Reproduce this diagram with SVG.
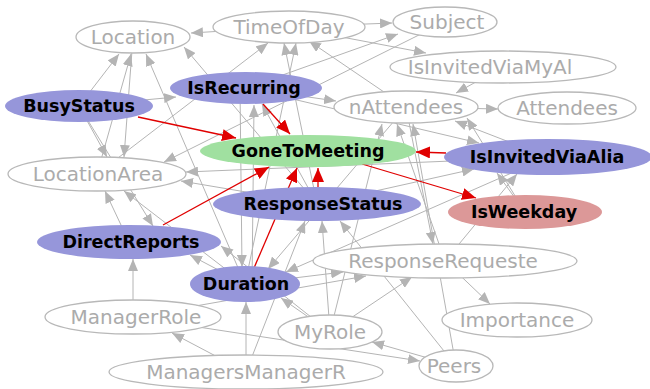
<svg xmlns="http://www.w3.org/2000/svg" width="650" height="389" viewBox="0 0 650 389">
<style>
  .e { stroke: #b4b4b4; stroke-width: 1; fill: none; marker-end: url(#ag); }
  .r { stroke: #e00000; stroke-width: 1.3; fill: none; marker-end: url(#ar); }
  .n ellipse { fill: #ffffff; stroke: #b8b8b8; stroke-width: 1.3; }
  .n text { font-family: "DejaVu Sans", Verdana, sans-serif; font-size: 20px; fill: #ababab; text-anchor: middle; }
  .f text { font-family: "DejaVu Sans", Verdana, sans-serif; font-size: 17.5px; font-weight: bold; fill: #000000; text-anchor: middle; }
  .blue ellipse { fill: #9696da; }
  .green ellipse { fill: #a0e0a0; }
  .pink ellipse { fill: #dc9898; }
</style>
<defs>
  <marker id="ag" markerUnits="userSpaceOnUse" markerWidth="12" markerHeight="10" refX="12" refY="5" orient="auto">
    <path d="M0,0 L12,5 L0,10 z" fill="#b4b4b4"/>
  </marker>
  <marker id="ar" markerUnits="userSpaceOnUse" markerWidth="14" markerHeight="12" refX="14" refY="6" orient="auto">
    <path d="M0,0 L14,6 L0,12 z" fill="#e00000"/>
  </marker>
</defs>
<rect width="650" height="389" fill="#ffffff"/>

<g id="edges">
  <line class="e" x1="289" y1="27" x2="191" y2="33"/>
  <line class="e" x1="289" y1="27" x2="392" y2="23"/>
  <line class="e" x1="79" y1="106" x2="119" y2="54"/>
  <line class="e" x1="97" y1="174" x2="131" y2="54"/>
  <line class="e" x1="245" y1="284" x2="146" y2="54"/>
  <line class="e" x1="317" y1="204" x2="184" y2="47"/>
  <line class="e" x1="97" y1="174" x2="268" y2="43"/>
  <line class="e" x1="317" y1="204" x2="284" y2="43"/>
  <line class="e" x1="245" y1="284" x2="296" y2="43"/>
  <line class="e" x1="406" y1="107" x2="309" y2="41"/>
  <line class="e" x1="246" y1="88" x2="398" y2="34"/>
  <line class="e" x1="289" y1="27" x2="426" y2="53"/>
  <line class="e" x1="503" y1="67" x2="456" y2="93"/>
  <line class="e" x1="406" y1="107" x2="498" y2="109"/>
  <line class="e" x1="246" y1="88" x2="336" y2="101"/>
  <line class="e" x1="456" y1="366" x2="413" y2="124"/>
  <line class="e" x1="445" y1="261" x2="397" y2="124"/>
  <line class="e" x1="330" y1="332" x2="382" y2="124"/>
  <line class="e" x1="548" y1="157" x2="455" y2="121"/>
  <line class="e" x1="525" y1="212" x2="467" y2="118"/>
  <line class="e" x1="246" y1="88" x2="479" y2="143"/>
  <line class="e" x1="133" y1="37" x2="124" y2="157"/>
  <line class="e" x1="79" y1="106" x2="107" y2="157"/>
  <line class="e" x1="445" y1="22" x2="164" y2="162"/>
  <line class="e" x1="548" y1="157" x2="186" y2="172"/>
  <line class="e" x1="317" y1="204" x2="181" y2="181"/>
  <line class="e" x1="129" y1="242" x2="105" y2="191"/>
  <line class="e" x1="245" y1="284" x2="124" y2="191"/>
  <line class="e" x1="79" y1="106" x2="153" y2="226"/>
  <line class="e" x1="133" y1="317" x2="133" y2="259"/>
  <line class="e" x1="245" y1="284" x2="190" y2="255"/>
  <line class="e" x1="330" y1="332" x2="221" y2="246"/>
  <line class="e" x1="246" y1="372" x2="172" y2="333"/>
  <line class="e" x1="240" y1="88" x2="242" y2="267"/>
  <line class="e" x1="406" y1="107" x2="268" y2="269"/>
  <line class="e" x1="548" y1="157" x2="286" y2="272"/>
  <line class="e" x1="330" y1="332" x2="281" y2="298"/>
  <line class="e" x1="246" y1="372" x2="246" y2="302"/>
  <line class="e" x1="245" y1="284" x2="343" y2="272"/>
  <line class="e" x1="133" y1="317" x2="366" y2="276"/>
  <line class="e" x1="330" y1="332" x2="412" y2="277"/>
  <line class="e" x1="445" y1="261" x2="490" y2="304"/>
  <line class="e" x1="456" y1="366" x2="372" y2="342"/>
  <line class="e" x1="133" y1="317" x2="420" y2="361"/>
  <line class="e" x1="456" y1="366" x2="340" y2="221"/>
  <line class="e" x1="330" y1="332" x2="322" y2="221"/>
  <line class="e" x1="246" y1="372" x2="305" y2="221"/>
  <line class="e" x1="445" y1="261" x2="517" y2="174"/>
  <line class="e" x1="525" y1="212" x2="497" y2="173"/>
  <line class="e" x1="317" y1="204" x2="474" y2="169"/>
  <line class="e" x1="79" y1="106" x2="176" y2="97"/>
  <line class="e" x1="317" y1="204" x2="262" y2="104"/>
  <line class="e" x1="252" y1="284" x2="254" y2="105"/>
  <line class="e" x1="406" y1="107" x2="433" y2="244"/>

  <!-- links into and out of GoneToMeeting -->
  <line class="r" x1="138" y1="117" x2="236" y2="138"/>
  <line class="r" x1="263" y1="104" x2="290" y2="134"/>
  <line class="r" x1="446" y1="153" x2="416" y2="152"/>
  <line class="r" x1="362" y1="164" x2="476" y2="198"/>
  <line class="r" x1="163" y1="225" x2="269" y2="167"/>
  <line class="r" x1="254" y1="268" x2="297" y2="168"/>
  <line class="r" x1="318" y1="187" x2="318" y2="168"/>
</g>

<g id="Location" class="n"><ellipse cx="133" cy="37" rx="57" ry="16"/><text x="133" y="44">Location</text></g>
<g id="TimeOfDay" class="n"><ellipse cx="289" cy="27" rx="76" ry="16"/><text x="289" y="34">TimeOfDay</text></g>
<g id="Subject" class="n"><ellipse cx="445" cy="22" rx="52" ry="15"/><text x="447" y="29">Subject</text></g>
<g id="IsInvitedViaMyAl" class="n"><ellipse cx="503" cy="67" rx="113" ry="16"/><text x="490" y="74">IsInvitedViaMyAl</text></g>
<g id="Attendees" class="n"><ellipse cx="567" cy="108" rx="69" ry="16"/><text x="567" y="115">Attendees</text></g>
<g id="nAttendees" class="n"><ellipse cx="406" cy="107" rx="72" ry="16"/><text x="406" y="114">nAttendees</text></g>
<g id="LocationArea" class="n"><ellipse cx="97" cy="174" rx="89" ry="17"/><text x="98" y="181">LocationArea</text></g>
<g id="ResponseRequeste" class="n"><ellipse cx="445" cy="261" rx="132" ry="17"/><text x="443" y="268">ResponseRequeste</text></g>
<g id="ManagerRole" class="n"><ellipse cx="133" cy="317" rx="88" ry="17"/><text x="136" y="324">ManagerRole</text></g>
<g id="MyRole" class="n"><ellipse cx="330" cy="332" rx="52" ry="17"/><text x="330" y="339">MyRole</text></g>
<g id="Importance" class="n"><ellipse cx="517" cy="320" rx="75" ry="17"/><text x="517" y="327">Importance</text></g>
<g id="Peers" class="n"><ellipse cx="456" cy="366" rx="37" ry="16"/><text x="454" y="373">Peers</text></g>
<g id="ManagersManagerR" class="n"><ellipse cx="246" cy="372" rx="137" ry="17"/><text x="246" y="379">ManagersManagerR</text></g>

<g id="IsRecurring" class="f blue"><ellipse cx="246" cy="88" rx="76" ry="16"/><text x="244" y="94">IsRecurring</text></g>
<g id="BusyStatus" class="f blue"><ellipse cx="79" cy="106" rx="74" ry="16"/><text x="79" y="112">BusyStatus</text></g>
<g id="IsInvitedViaAlia" class="f blue"><ellipse cx="548" cy="157" rx="104" ry="18"/><text x="547" y="163">IsInvitedViaAlia</text></g>
<g id="ResponseStatus" class="f blue"><ellipse cx="317" cy="204" rx="104" ry="17"/><text x="323" y="210">ResponseStatus</text></g>
<g id="DirectReports" class="f blue"><ellipse cx="129" cy="242" rx="92" ry="17"/><text x="131" y="248">DirectReports</text></g>
<g id="Duration" class="f blue"><ellipse cx="245" cy="284" rx="55" ry="18"/><text x="246" y="290">Duration</text></g>
<g id="GoneToMeeting" class="f green"><ellipse cx="308" cy="151" rx="108" ry="16"/><text x="308" y="157">GoneToMeeting</text></g>
<g id="IsWeekday" class="f pink"><ellipse cx="525" cy="212" rx="77" ry="17"/><text x="524" y="218">IsWeekday</text></g>
</svg>
